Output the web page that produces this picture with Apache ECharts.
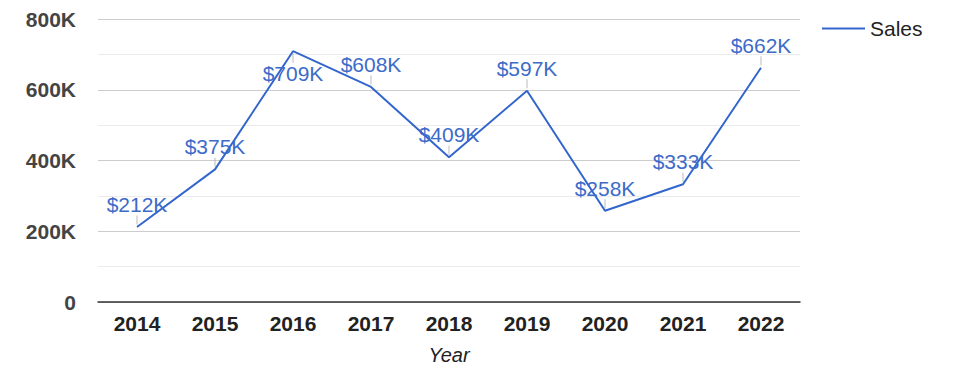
<!DOCTYPE html>
<html>
<head>
<meta charset="utf-8">
<script src="https://cdn.jsdelivr.net/npm/echarts@6/dist/echarts.min.js"></script>
<style>
  html, body { margin: 0; padding: 0; background: #fff; }
  #main { width: 975px; height: 378px; }
</style>
</head>
<body>
<div id="main"></div>
<script>
// data
const years = ['2014', '2015', '2016', '2017', '2018', '2019', '2020', '2021', '2022'];
const sales = [212000, 375000, 709000, 608000, 409000, 597000, 258000, 333000, 662000];
const yTicks = [0, 200000, 400000, 600000, 800000];

const chart = echarts.init(document.getElementById('main'), null, {renderer: 'svg'});

const fmtK = v => v === 0 ? '0' : Math.round(v / 1000) + 'K';
// annotation goes under the point when it would hit the top of the plot
const below = v => v > 680000;

const lineData = sales.map(v => ({
    value: v,
    label: { position: below(v) ? 'bottom' : 'top' }
}));
const tickData = sales.map(v => ({
    value: v,
    symbolOffset: [0, below(v) ? 7 : -7]
}));

chart.setOption({
    animation: false,
    textStyle: { fontFamily: '"Liberation Sans", Arial, sans-serif' },
    grid: { left: 98, right: 175, top: 19, bottom: 76 },
    legend: {
        data: ['Sales'],
        left: 817,
        top: 13,
        itemWidth: 43,
        itemHeight: 2,
        itemGap: 10,
        icon: 'rect',
        textStyle: { fontSize: 21, color: '#222' }
    },
    xAxis: {
        type: 'category',
        data: years,
        name: 'Year',
        nameLocation: 'middle',
        nameGap: 43,
        nameTextStyle: { fontSize: 20, fontStyle: 'italic', color: '#222' },
        axisLine: { lineStyle: { color: '#333', width: 1.5 } },
        axisTick: { show: false },
        axisLabel: { fontSize: 21, fontWeight: 'bold', color: '#222', margin: 11 }
    },
    yAxis: {
        type: 'value',
        min: yTicks[0],
        max: yTicks[yTicks.length - 1],
        interval: 200000,
        axisLine: { show: false },
        axisTick: { show: false },
        axisLabel: { fontSize: 21, fontWeight: 'bold', color: '#444', margin: 22, formatter: fmtK },
        splitLine: { lineStyle: { color: '#cccccc' } },
        minorTick: { show: false, splitNumber: 2 },
        minorSplitLine: { show: true, lineStyle: { color: '#ebebeb' } }
    },
    series: [{
        name: 'Sales',
        type: 'line',
        data: lineData,
        symbol: 'circle',
        symbolSize: 0,
        showSymbol: true,
        z: 3,
        lineStyle: { color: '#3366cc', width: 2 },
        itemStyle: { color: '#3366cc' },
        label: {
            show: true,
            distance: 12,
            fontSize: 21,
            color: '#3d6bc9',
            formatter: p => '$' + Math.round(p.value / 1000) + 'K'
        }
    }, {
        // small gray leader ticks between point and annotation
        name: 'tick',
        type: 'scatter',
        data: tickData,
        symbol: 'rect',
        symbolSize: [1, 9],
        silent: true,
        z: 2,
        itemStyle: { color: '#aaaaaa' }
    }]
});
</script>
</body>
</html>
